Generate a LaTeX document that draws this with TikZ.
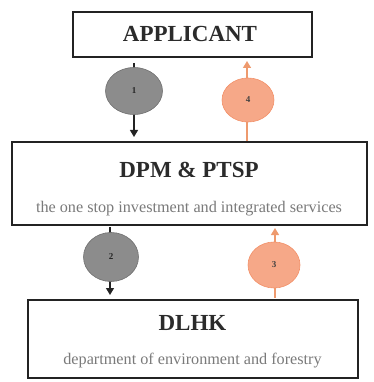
\documentclass[tikz,border=0pt]{standalone}
\usepackage{fontspec}
\setmainfont{Liberation Serif}
\usetikzlibrary{arrows.meta,shapes.geometric}
\definecolor{boxline}{HTML}{232323}
\definecolor{titlecol}{HTML}{2B2B2B}
\definecolor{subcol}{HTML}{7A7A7A}
\definecolor{grayfill}{HTML}{8C8C8C}
\definecolor{grayline}{HTML}{6F6F6F}
\definecolor{orfill}{HTML}{F6A888}
\definecolor{orline}{HTML}{F29068}
\definecolor{orarrow}{HTML}{EE9A6E}
\tikzset{
  box/.style={draw=boxline, line width=2pt, fill=white, inner sep=0pt},
  title/.style={anchor=base, text=titlecol, font=\bfseries\fontsize{23}{23}\selectfont, inner sep=0pt},
  sub/.style={anchor=base, text=subcol, font=\fontsize{16.2}{16.2}\selectfont, inner sep=0pt},
  darr/.style={draw=boxline, line width=1.4pt, -{Triangle[width=8pt,length=7pt]}},
  oarr/.style={draw=orarrow, line width=1.4pt, -{Triangle[width=8pt,length=7pt]}},
  gcirc/.style={ellipse, fill=grayfill, draw=grayline, line width=0.6pt, inner sep=0pt, font=\bfseries\fontsize{9}{9}\selectfont, text=black!85},
  ocirc/.style={ellipse, fill=orfill, draw=orline, line width=0.6pt, inner sep=0pt, font=\bfseries\fontsize{9}{9}\selectfont, text=black!75},
}
\begin{document}
\begin{tikzpicture}[x=1pt,y=-1pt]
\useasboundingbox (0,0) rectangle (373,382);
% boxes
\node[box, minimum width=239pt, minimum height=45pt] (app) at (192.5,34.5) {};
\node[box, minimum width=355pt, minimum height=83pt] (dpm) at (189.5,183.5) {};
\node[box, minimum width=330pt, minimum height=78pt] (dlhk) at (193,339) {};
% texts
\node[title] (appt) at (190,42) {APPLICANT};
\node[title] (dpmt) at (189,177) {DPM \& PTSP};
\node[sub] (dpms) at (189,212) {the one stop investment and integrated services};
\node[title] (dlhkt) at (192.5,330) {DLHK};
\node[sub] (dlhks) at (192.5,364) {department of environment and forestry};
% circle positions
\coordinate (a1) at (134,0);
\coordinate (a4) at (247,0);
\coordinate (a2) at (110,0);
\coordinate (a3) at (275,0);
% connectors
\draw[darr, shorten <=5pt, shorten >=4pt] (app.south -| a1) -- (dpm.north -| a1);
\draw[oarr, shorten >=3pt] (dpm.north -| a4) -- (app.south -| a4);
\draw[darr, shorten <=1pt, shorten >=4pt] (dpm.south -| a2) -- (dlhk.north -| a2);
\draw[oarr, shorten <=1pt, shorten >=2pt] (dlhk.north -| a3) -- (dpm.south -| a3);
% circles
\node[gcirc, minimum width=57pt, minimum height=47pt] (c1) at (134,91) {1};
\node[ocirc, minimum width=52pt, minimum height=44pt] (c4) at (248,100) {4};
\node[gcirc, minimum width=55pt, minimum height=49pt] (c2) at (111,257) {2};
\node[ocirc, minimum width=52pt, minimum height=46pt] (c3) at (274,265) {3};
\end{tikzpicture}
\end{document}
